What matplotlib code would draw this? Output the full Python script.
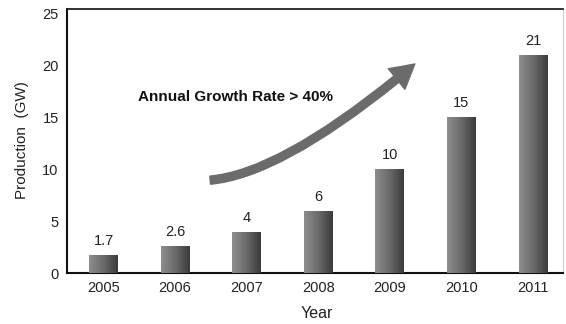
import numpy as np
import matplotlib
matplotlib.use("Agg")
import matplotlib.pyplot as plt
from matplotlib.patches import FancyArrowPatch
from matplotlib.colors import LinearSegmentedColormap

years = ["2005", "2006", "2007", "2008", "2009", "2010", "2011"]
production = [1.7, 2.6, 4, 6, 10, 15, 21]
value_labels = ["1.7", "2.6", "4", "6", "10", "15", "21"]
yticks = [0, 5, 10, 15, 20, 25]

plt.rcParams['font.family'] = ['Liberation Sans', 'DejaVu Sans']

fig = plt.figure(figsize=(5.66, 3.24), dpi=100)
ax = fig.add_axes([0.1184, 0.1574, 0.8763, 0.8133])

x = np.arange(len(years))
bars = ax.bar(x, production, width=0.4, color='#666666', edgecolor='none', zorder=2)

grad = np.linspace(0, 1, 256).reshape(1, -1)
cmap = LinearSegmentedColormap.from_list('g', ['#8e8e8e', '#6a6a6a', '#3a3a3a'])
for b in bars:
    x0, y0 = b.get_x(), b.get_y()
    w, h = b.get_width(), b.get_height()
    im = ax.imshow(grad, cmap=cmap, aspect='auto', extent=(x0, x0 + w, y0, y0 + h),
                   zorder=3, interpolation='bilinear')
    im.set_clip_path(b)

for xi, v, lab in zip(x, production, value_labels):
    ax.annotate(lab, xy=(xi, v), xytext=(0, 5), textcoords='offset points',
                ha='center', va='bottom', fontsize=10.5, color='#222222')

ax.set_xlim(-0.51, 6.42)
ax.set_ylim(0, 25.4)
ax.set_xticks(x)
ax.set_xticklabels(years, fontsize=10.5, color='#222222')
ax.set_yticks(yticks)
ax.set_yticklabels([str(t) for t in yticks], fontsize=10.5, color='#222222')
ax.tick_params(length=0)
ax.tick_params(axis='y', pad=6)
ax.tick_params(axis='x', pad=6)

ax.set_xlabel('Year', fontsize=11.5, color='#222222')
ax.xaxis.set_label_coords(0.504, -0.125)
ax.set_ylabel('Production  (GW)', fontsize=11, color='#222222')
ax.yaxis.set_label_coords(-0.077, 0.505)

for s in ['left', 'bottom']:
    ax.spines[s].set_linewidth(1.5)
    ax.spines[s].set_color('#111111')
ax.spines['top'].set_linewidth(1.3)
ax.spines['top'].set_color('#222222')
ax.spines['right'].set_linewidth(0.8)
ax.spines['right'].set_color('#d0d0d0')

ax.text(0.48, 16.95, 'Annual Growth Rate > 40%', fontsize=11, fontweight='bold',
        ha='left', va='center', color='#111111')

arrow = FancyArrowPatch((1.49, 8.95), (4.35, 20.15),
                        connectionstyle='angle3,angleA=5,angleB=40',
                        arrowstyle='simple,head_width=1.9,head_length=1.7,tail_width=0.58',
                        mutation_scale=10, color='#6b6b6b', shrinkA=0, shrinkB=0, zorder=4)
ax.add_patch(arrow)

fig.savefig('out.png', dpi=100)
